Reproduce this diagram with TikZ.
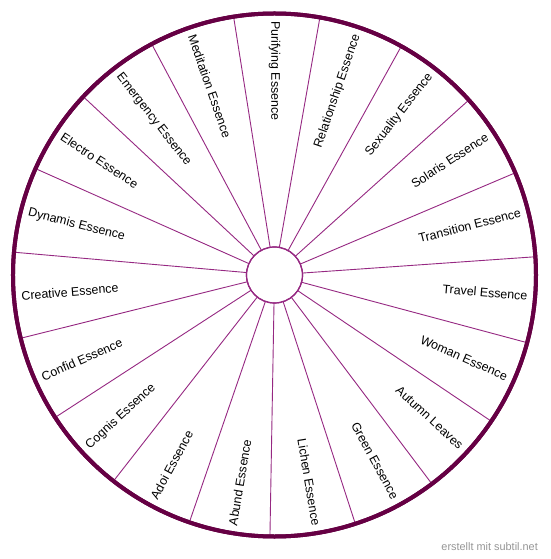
\documentclass[tikz,border=0pt]{standalone}
\usepackage{fontspec}
\setmainfont{Liberation Sans}
\definecolor{rimcol}{RGB}{102,0,68}
\definecolor{spokecol}{RGB}{150,40,130}
\definecolor{markcol}{RGB}{150,150,150}
\begin{document}
\begin{tikzpicture}[x=1pt,y=1pt,
  rimstyle/.style={circle, draw=rimcol, line width=4pt, inner sep=0pt, outer sep=0pt, minimum size=523pt},
  hubstyle/.style={circle, draw=spokecol, line width=1.2pt, fill=white, inner sep=0pt, outer sep=0pt, minimum size=56pt},
  spokestyle/.style={draw=spokecol, line width=0.9pt},
  lbl/.style={inner sep=0pt, font=\fontsize{12.4}{14}\selectfont},
  wm/.style={inner sep=0pt, text=markcol, font=\fontsize{10.9}{12}\selectfont, anchor=east}]
\useasboundingbox (-274.5,-284) rectangle (275.5,275);
\fill[white] (-274.5,-284) rectangle (275.5,275);
\node[rimstyle] (rim) at (0,0) {};
\node[hubstyle] (hub) at (0,0) {};
\foreach \i in {0,...,18} {
  \pgfmathsetmacro{\a}{90+180/19+\i*360/19}
  \draw[spokestyle] (hub.\a) -- (rim.\a);
}
\node[rimstyle] (rimtop) at (0,0) {};
\node[hubstyle, fill=none] (hubtop) at (0,0) {};
\foreach [count=\i from 0] \t in {Purifying Essence, Relationship Essence, Sexuality Essence, Solaris Essence, Transition Essence, Travel Essence, Woman Essence, Autumn Leaves, Green Essence, Lichen Essence, Abund Essence, Adoi Essence, Cognis Essence, Confid Essence, Creative Essence, Dynamis Essence, Electro Essence, Emergency Essence, Meditation Essence} {
  \pgfmathsetmacro{\a}{90-\i*360/19}
  \pgfmathsetmacro{\rr}{(\i>0 && \i<10) ? \a : \a+180}
  \pgfmathsetmacro{\anc}{(\i>0 && \i<10) ? "east" : "west"}
  \node[lbl, rotate=\rr, anchor=\anc] (l\i) at (\a:254) {\t};
}
\node[wm] (mark) at (263.5,-272) {erstellt mit subtil.net};
\end{tikzpicture}
\end{document}
